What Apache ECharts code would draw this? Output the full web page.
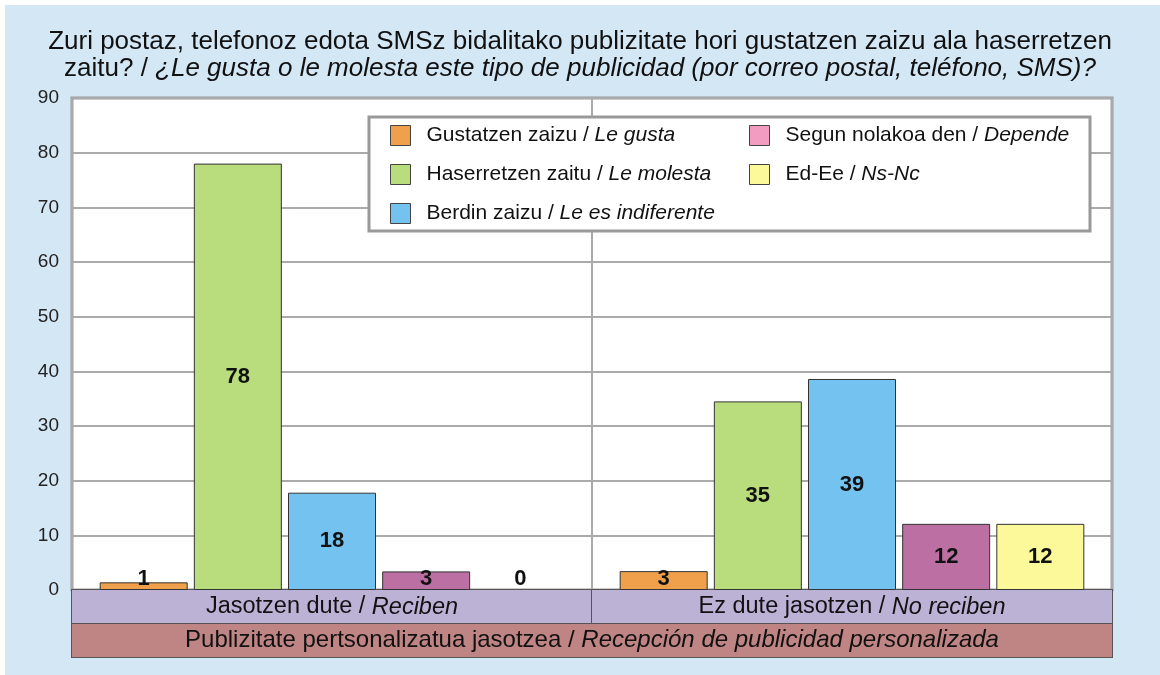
<!DOCTYPE html>
<html>
<head>
<meta charset="utf-8">
<script src="https://cdn.jsdelivr.net/npm/echarts@6/dist/echarts.min.js"></script>
<style>html,body{margin:0;padding:0;background:#fff;}#c{width:1160px;height:675px;}</style>
</head>
<body>
<div id="c"></div>
<script>
var categories = ['Jasotzen dute / Reciben', 'Ez dute jasotzen / No reciben'];
var groupLabel = ['Publizitate pertsonalizatua jasotzea / Recepción de publicidad personalizada'];
var seriesNames = ['Gustatzen zaizu / Le gusta', 'Haserretzen zaitu / Le molesta', 'Berdin zaizu / Le es indiferente', 'Segun nolakoa den / Depende', 'Ed-Ee / Ns-Nc'];
var gusta = [1.4, 3.45];
var molesta = [78.0, 34.5];
var indiferente = [17.8, 38.6];
var depende = [3.4, 12.1];
var nsnc = [0, 12.1];
var yTicks = [0, 10, 20, 30, 40, 50, 60, 70, 80, 90];

var barColors = ['#f0a04b', '#b9dc7d', '#74c2ef', '#bb6fa3', '#fbf99a'];
var legendColors = ['#f0a04b', '#b9dc7d', '#74c2ef', '#f29cc2', '#fbf99a'];
var values = [gusta, molesta, indiferente, depende, nsnc];
var FONT = "'Liberation Sans', Arial, sans-serif";

function splitRich(s) {
  var i = s.indexOf(' / ');
  return '{a|' + s.slice(0, i + 3) + '}{b|' + s.slice(i + 3) + '}';
}

var series = seriesNames.map(function (name, si) {
  return {
    name: name,
    type: 'bar',
    barWidth: 88,
    barGap: '7%',
    itemStyle: { color: barColors[si], borderColor: '#333', borderWidth: 1 },
    label: {
      show: true,
      fontFamily: FONT, fontSize: 22, fontWeight: 'bold', color: '#111',
      formatter: function (p) { return Math.round(p.value); }
    },
    data: values[si].map(function (v) {
      return {
        value: v,
        itemStyle: v === 0 ? { borderWidth: 0 } : {},
        label: { position: v < 8 ? 'insideBottom' : 'inside', distance: 0 }
      };
    })
  };
});

function legendData(idx) {
  return idx.map(function (i) {
    return { name: seriesNames[i], itemStyle: { color: legendColors[i], borderColor: '#444', borderWidth: 1 } };
  });
}
var legendText = {
  fontFamily: FONT, fontSize: 21, color: '#111',
  rich: {
    a: { fontFamily: FONT, fontSize: 21, color: '#111', padding: [0, 0, 0, 11] },
    b: { fontFamily: FONT, fontSize: 21, color: '#111', fontStyle: 'italic' }
  }
};

var chart = echarts.init(document.getElementById('c'), null, { renderer: 'canvas' });
chart.setOption({
  backgroundColor: '#ffffff',
  animation: false,
  graphic: [
    { type: 'rect', z: -10, shape: { x: 5, y: 5, width: 1160, height: 675 }, style: { fill: '#d4e7f5' } },
    { type: 'rect', z: 3, shape: { x: 369, y: 117, width: 721, height: 114 }, style: { fill: '#ffffff', stroke: '#999999', lineWidth: 3 } }
  ],
  title: {
    left: 'center', top: 23,
    text: 'Zuri postaz, telefonoz edota SMSz bidalitako publizitate hori gustatzen zaizu ala haserretzen\n{a|zaitu? / }{b|¿Le gusta o le molesta este tipo de publicidad (por correo postal, teléfono, SMS)?}',
    textStyle: {
      fontFamily: FONT, fontSize: 26, fontWeight: 'normal', color: '#111', lineHeight: 27, align: 'center',
      rich: {
        a: { fontFamily: FONT, fontSize: 26, color: '#111', lineHeight: 27 },
        b: { fontFamily: FONT, fontSize: 26, color: '#111', lineHeight: 27, fontStyle: 'italic' }
      }
    }
  },
  legend: [
    {
      left: 390, top: 125, orient: 'vertical', padding: 0, itemWidth: 20, itemHeight: 20, itemGap: 18,
      icon: 'rect', z: 5, data: legendData([0, 1, 2]), textStyle: legendText, formatter: splitRich
    },
    {
      left: 749, top: 125, orient: 'vertical', padding: 0, itemWidth: 20, itemHeight: 20, itemGap: 18,
      icon: 'rect', z: 5, data: legendData([3, 4]), textStyle: legendText, formatter: splitRich
    }
  ],
  grid: {
    left: 72, right: 48, top: 98, bottom: 85,
    show: true, backgroundColor: '#ffffff', borderColor: '#999999', borderWidth: 3
  },
  xAxis: [
    {
      type: 'category', data: categories, position: 'bottom',
      axisLine: { show: false }, axisTick: { show: false },
      splitLine: { show: true, lineStyle: { color: '#aaaaaa', width: 2 } },
      axisLabel: {
        margin: 0, interval: 0,
        width: 520, height: 34, lineHeight: 34, verticalAlign: 'top', align: 'center',
        backgroundColor: '#bcb2d6', borderColor: '#555555', borderWidth: 1,
        formatter: splitRich,
        rich: {
          a: { fontFamily: FONT, fontSize: 23.5, color: '#111', lineHeight: 34 },
          b: { fontFamily: FONT, fontSize: 23.5, color: '#111', lineHeight: 34, fontStyle: 'italic' }
        }
      }
    },
    {
      type: 'category', data: groupLabel, position: 'bottom', offset: 34,
      axisLine: { show: false }, axisTick: { show: false }, splitLine: { show: false },
      axisLabel: {
        margin: 0, interval: 0,
        width: 1040, height: 33, lineHeight: 33, verticalAlign: 'top', align: 'center',
        backgroundColor: '#bf8584', borderColor: '#555555', borderWidth: 1,
        formatter: splitRich,
        rich: {
          a: { fontFamily: FONT, fontSize: 24, color: '#111', lineHeight: 33 },
          b: { fontFamily: FONT, fontSize: 24, color: '#111', lineHeight: 33, fontStyle: 'italic' }
        }
      }
    }
  ],
  yAxis: {
    type: 'value', min: yTicks[0], max: yTicks[yTicks.length - 1], interval: yTicks[1] - yTicks[0],
    axisLine: { show: false }, axisTick: { show: false },
    splitLine: { show: true, lineStyle: { color: '#aaaaaa', width: 2 } },
    axisLabel: { fontFamily: FONT, fontSize: 19, color: '#222', margin: 13 }
  },
  series: series
});
</script>
</body>
</html>
